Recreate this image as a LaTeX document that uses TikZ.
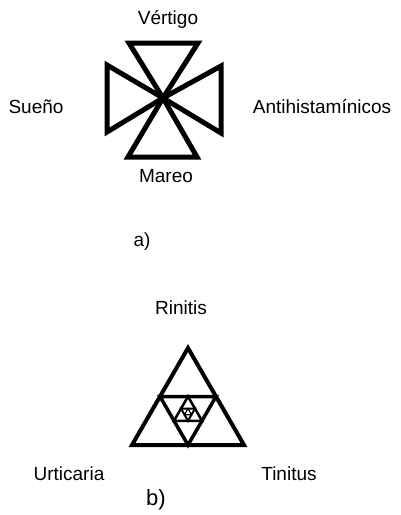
\documentclass[tikz,border=0pt]{standalone}
\usepackage{fontspec}
\setmainfont{Liberation Sans}
\usepackage{tikz}

\tikzset{
  txt/.style={inner sep=0pt, font=\fontsize{19}{21}\selectfont},
  wing/.style={line width=5pt, line join=miter},
}

\begin{document}
\begin{tikzpicture}[x=1pt, y=-1pt]
			\useasboundingbox (0,0) rectangle (401,515);
			
			\coordinate (c) at (163,98);
			\draw[wing] (c) -- (129,43) -- (198,43) -- cycle;
			\draw[wing] (c) -- (128,157) -- (197,157) -- cycle;
			\draw[wing] (c) -- (107,65) -- (107,132) -- cycle;
			\draw[wing] (c) -- (221,66) -- (221,133) -- cycle;
			
			\node[txt] (vertigo) at (168,19) {Vértigo};
			\node[txt] (mareo) at (166,176) {Mareo};
			\node[txt] (sueno) at (36,107) {Sueño};
			\node[txt] (antihist) at (322,107) {Antihistamínicos};
			\node[txt] (a) at (142,242) {a)};
			
			\draw[line width=4pt] (188,348) -- (132,445) -- (244,445) -- cycle;
			\draw[line width=3.5pt] (160,396.5) -- (216,396.5) -- (188,445) -- cycle;
			\draw[line width=2.5pt] (188,396.5) -- (174,420.75) -- (202,420.75) -- cycle;
			\draw[line width=2pt] (181,408.6) -- (195,408.6) -- (188,420.75) -- cycle;
			\draw[line width=1.2pt] (188,408.6) -- (184.5,414.7) -- (191.5,414.7) -- cycle;
			
			\node[txt] (rinitis) at (181,308) {Rinitis};
			\node[txt] (urticaria) at (69,474) {Urticaria};
			\node[txt] (tinitus) at (289,474) {Tinitus};
			\node[txt, font=\fontsize{22}{25}\selectfont] (b) at (156,500) {b)};
		\end{tikzpicture}
\end{document}
